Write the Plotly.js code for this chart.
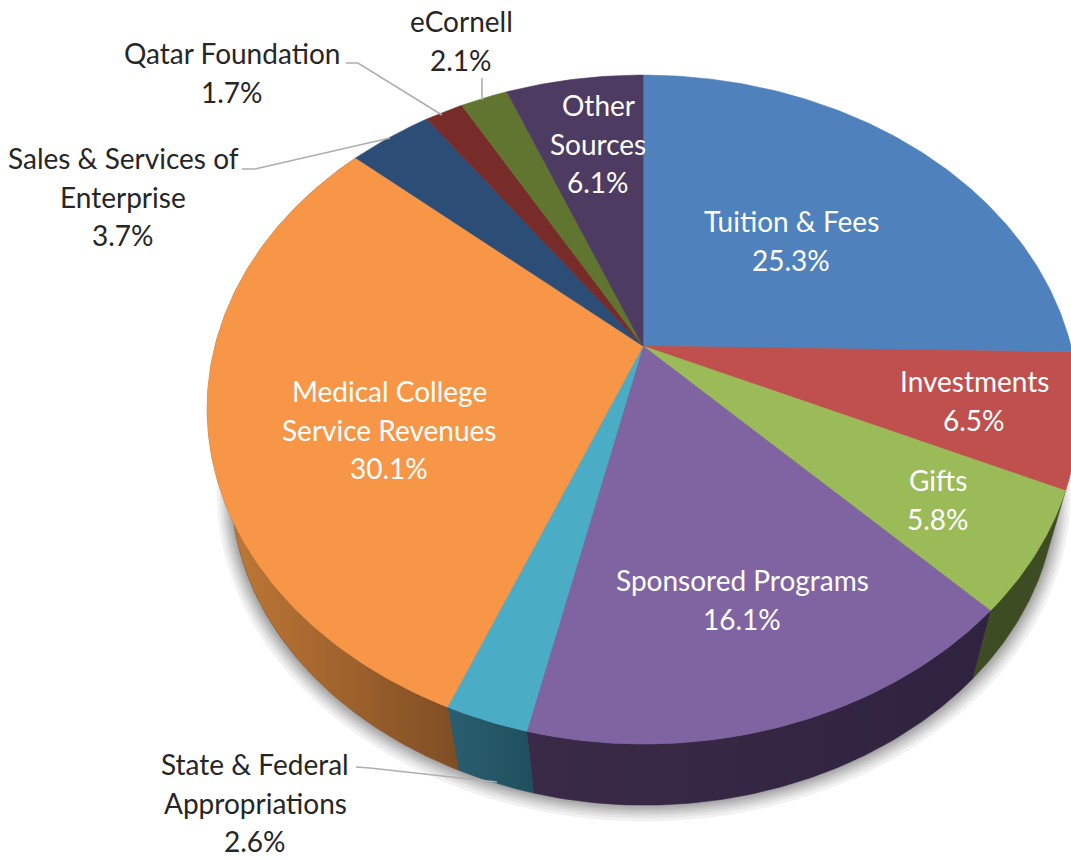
<!DOCTYPE html>
<html>
<head>
<meta charset="utf-8">
<script src="https://cdn.plot.ly/plotly-3.0.1.min.js"></script>
<style>html,body{margin:0;padding:0;background:#fff}#chart{width:1071px;height:860px}</style>
</head>
<body>
<div id="chart"></div>
<script>
// ---- data ----
const categories = ["Tuition & Fees","Investments","Gifts","Sponsored Programs","State & Federal Appropriations","Medical College Service Revenues","Sales & Services of Enterprise","Qatar Foundation","eCornell","Other Sources"];
const values = [25.3,6.5,5.8,16.1,2.6,30.1,3.7,1.7,2.1,6.1];
const labelLines = [["Tuition & Fees"],["Investments"],["Gifts"],["Sponsored Programs"],["State & Federal","Appropriations"],["Medical College","Service Revenues"],["Sales & Services of","Enterprise"],["Qatar Foundation"],["eCornell"],["Other","Sources"]];
const faceColors = ["#4f81bd","#c0504d","#9bbb59","#8064a2","#4bacc6","#f79646","#2c4d75","#772c2a","#5f7530","#4d3b62"];
// side wall gradient [left colour, right colour]; null = wall not visible
const wallColors = [null,null,["#3e4c23","#3e4c23"],["#3a2a48","#30233f"],["#2a5f70","#1f4f5e"],["#c67c38","#7e4d24"],null,null,null,null];
// label anchor: centre x, first line y
const labelX = [791,974,938,742,255,389,123,232,461,598];
const labelY = [221,381,480,580,764,391,158,53,21,105];
const labelInside = [true,true,true,true,false,true,false,false,false,true];
const lineStep = 38.7;
// leader lines
const leaderX = [[346,358,442],[482,482],[242,255,390],[356,370,497]];
const leaderY = [[63,63,115],[78,100],[169,169,138],[767,768,782]];

// ---- perspective projection of the disc ----
const apex = {x:643,y:346}, rx = 428, ry = 322, persp = 0.1886;
const wallScale = 0.9464, wallDx = 35.1, wallDy = 101;
function topPt(thetaDeg){
  const t = thetaDeg*Math.PI/180, d = 1+persp*Math.cos(t);
  // small correction of the rim near the front-left of the disc
  const b = Math.exp(-Math.pow((((thetaDeg%360)+360)%360-195)/30,2));
  return [apex.x+rx*Math.sin(t)/d+4.5*b, apex.y-ry*Math.cos(t)/d+1.5*b];
}
function bottomPt(thetaDeg){
  const p = topPt(thetaDeg);
  return [wallScale*p[0]+wallDx, wallScale*p[1]+wallDy];
}
function arc(fn,a,b){
  const n = Math.max(2,Math.ceil(Math.abs(b-a)/0.75)), out=[];
  for(let i=0;i<=n;i++) out.push(fn(a+(b-a)*i/n));
  return out;
}
const total = values.reduce((s,v)=>s+v,0);
const starts=[]; let run=0;
values.forEach(v=>{starts.push(run/total*360); run+=v;});

const traces=[];
function poly(pts,extra,name){
  const xs=pts.map(p=>p[0]).concat(pts[0][0]), ys=pts.map(p=>p[1]).concat(pts[0][1]);
  traces.push(Object.assign({type:"scatter",mode:"lines",x:xs,y:ys,fill:"toself",name:name,hoverinfo:"name",showlegend:false},extra));
}
// soft drop shadow of the lower rim
const ringAll = arc(bottomPt,0,360);
const cx = 640, cy = 487;
[15,12,9.5,7.5,5.5,4,2.5,1].forEach(e=>{
  const k=1+e/430, dy=e*0.35;
  poly(ringAll.map(p=>[cx+(p[0]-cx)*k, cy+(p[1]-cy)*k+dy]),{line:{width:0},fillcolor:"rgba(60,60,60,0.07)"},"shadow");
});
// side walls
values.forEach((v,i)=>{
  if(!wallColors[i]) return;
  const a=starts[i], b=a+v/total*360;
  poly(arc(topPt,a,b).concat(arc(bottomPt,b,a)),{
    line:{width:0.5,color:wallColors[i][1]},
    fillgradient:{type:"horizontal",colorscale:[[0,wallColors[i][0]],[1,wallColors[i][1]]]}
  },categories[i]);
});
// top face slices
values.forEach((v,i)=>{
  const a=starts[i], b=a+v/total*360;
  poly([[apex.x,apex.y]].concat(arc(topPt,a,b)),{line:{width:0.6,color:faceColors[i]},fillcolor:faceColors[i]},categories[i]);
});
// leaders
leaderX.forEach((xs,i)=>{
  traces.push({type:"scatter",mode:"lines",x:xs,y:leaderY[i],line:{color:"#aeaeae",width:1.6},hoverinfo:"skip",showlegend:false});
});
// labels
const annotations=[];
values.forEach((v,i)=>{
  labelLines[i].concat(v.toFixed(1)+"%").forEach((t,j)=>{
    annotations.push({xref:"x",yref:"y",x:labelX[i],y:labelY[i]+j*lineStep,text:t,showarrow:false,
      xanchor:"center",yanchor:"middle",font:{family:"Lato, sans-serif",size:28,color:labelInside[i]?"#ffffff":"#262626"}});
  });
});
Plotly.newPlot("chart",traces,{
  width:1071,height:860,margin:{l:0,r:0,t:0,b:0},paper_bgcolor:"#fff",plot_bgcolor:"#fff",showlegend:false,
  xaxis:{range:[0,1071],visible:false,fixedrange:true},
  yaxis:{range:[860,0],visible:false,fixedrange:true},
  annotations:annotations
},{displayModeBar:false,staticPlot:true});
</script>
</body>
</html>
